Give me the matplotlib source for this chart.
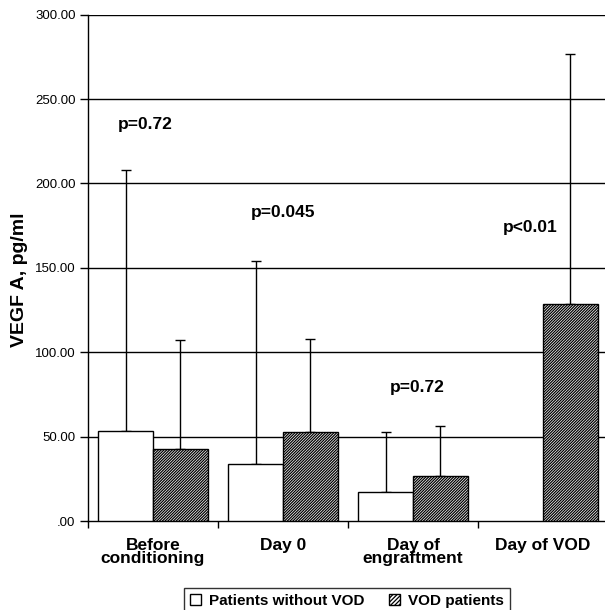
import matplotlib
matplotlib.use("Agg")
import matplotlib.pyplot as plt
import numpy as np
from matplotlib.patches import Patch

plt.rcParams['font.family'] = ['Liberation Sans', 'DejaVu Sans']
plt.rcParams['hatch.linewidth'] = 0.9

categories = ["Before\nconditioning", "Day 0", "Day of\nengraftment", "Day of VOD"]
no_vod_mean = [53.5, 33.5, 17.0, np.nan]
no_vod_err_top = [208, 154, 53, np.nan]
vod_mean = [42.5, 52.5, 26.5, 128.5]
vod_err_top = [107, 108, 56, 276.5]
p_labels = ["p=0.72", "p=0.045", "p=0.72", "p<0.01"]
p_y = [235, 183, 79, 174]
p_x = [0.44, 1.5, 2.53, 3.4]
yticks = [0, 50, 100, 150, 200, 250, 300]
ytick_labels = [".00", "50.00", "100.00", "150.00", "200.00", "250.00", "300.00"]

fig = plt.figure(figsize=(6.05, 6.10), dpi=100)
ax = fig.add_axes([88/605, 1-521/610, 520/605, (521-14.7)/610])

n = len(categories)
idx = np.arange(n)
w = 0.42
x_white = idx + 0.5 - w/2
x_hatch = idx + 0.5 + w/2

for y in yticks[1:]:
    ax.axhline(y, color='black', lw=1.0, zorder=1)

nv = np.array(no_vod_mean)
nve = np.array(no_vod_err_top)
mask = ~np.isnan(nv)
ax.bar(x_white[mask], nv[mask], width=w, color='white', edgecolor='black', lw=1.0, zorder=3)
ax.errorbar(x_white[mask], nv[mask], yerr=[np.zeros(mask.sum()), nve[mask]-nv[mask]],
            fmt='none', ecolor='black', elinewidth=1.0, capsize=3.5, capthick=1.0, zorder=2)
vm = np.array(vod_mean)
ve = np.array(vod_err_top)
ax.bar(x_hatch, vm, width=w, color='white', edgecolor='black', hatch='/' * 12, lw=1.0, zorder=3)
ax.errorbar(x_hatch, vm, yerr=[np.zeros(n), ve-vm],
            fmt='none', ecolor='black', elinewidth=1.0, capsize=3.5, capthick=1.0, zorder=2)

for t, xx, yy in zip(p_labels, p_x, p_y):
    ax.text(xx, yy, t, ha='center', va='center', fontsize=12.5, fontweight='bold')

ax.set_xlim(0, n)
ax.set_ylim(0, 300)
ax.set_yticks(yticks)
ax.set_yticklabels(ytick_labels, fontsize=9.5)
ax.set_xticks(np.arange(n+1))
ax.set_xticklabels([])
ax.set_xticks(idx + 0.5, minor=True)
ax.set_xticklabels(categories, minor=True, fontsize=12.5, fontweight='bold', linespacing=0.85)
ax.tick_params(axis='x', which='minor', length=0, pad=12)
ax.tick_params(axis='x', which='major', length=5, width=1, direction='out')
ax.tick_params(axis='y', length=6, width=1, direction='out', pad=3)
for s in ['top', 'right']:
    ax.spines[s].set_visible(False)
for s in ['left', 'bottom']:
    ax.spines[s].set_linewidth(1.0)
fig.text(20/605, 1-280/610, "VEGF A, pg/ml", rotation=90, ha='center', va='center',
         fontsize=14, fontweight='bold')

handles = [Patch(facecolor='white', edgecolor='black', lw=1.0, label='Patients without VOD'),
           Patch(facecolor='white', edgecolor='black', hatch='/' * 8, lw=1.0, label='VOD patients')]
leg = fig.legend(handles=handles, loc='upper center', bbox_to_anchor=(347/605, 1-580/610), ncol=2,
                 frameon=True, fancybox=False, edgecolor='black', handlelength=0.75, handleheight=0.75,
                 handletextpad=0.5, columnspacing=1.6, borderpad=0.4,
                 prop={'weight': 'bold', 'size': 11})
leg.get_frame().set_linewidth(1.0)

fig.savefig("out.png", dpi=100, facecolor='white')
